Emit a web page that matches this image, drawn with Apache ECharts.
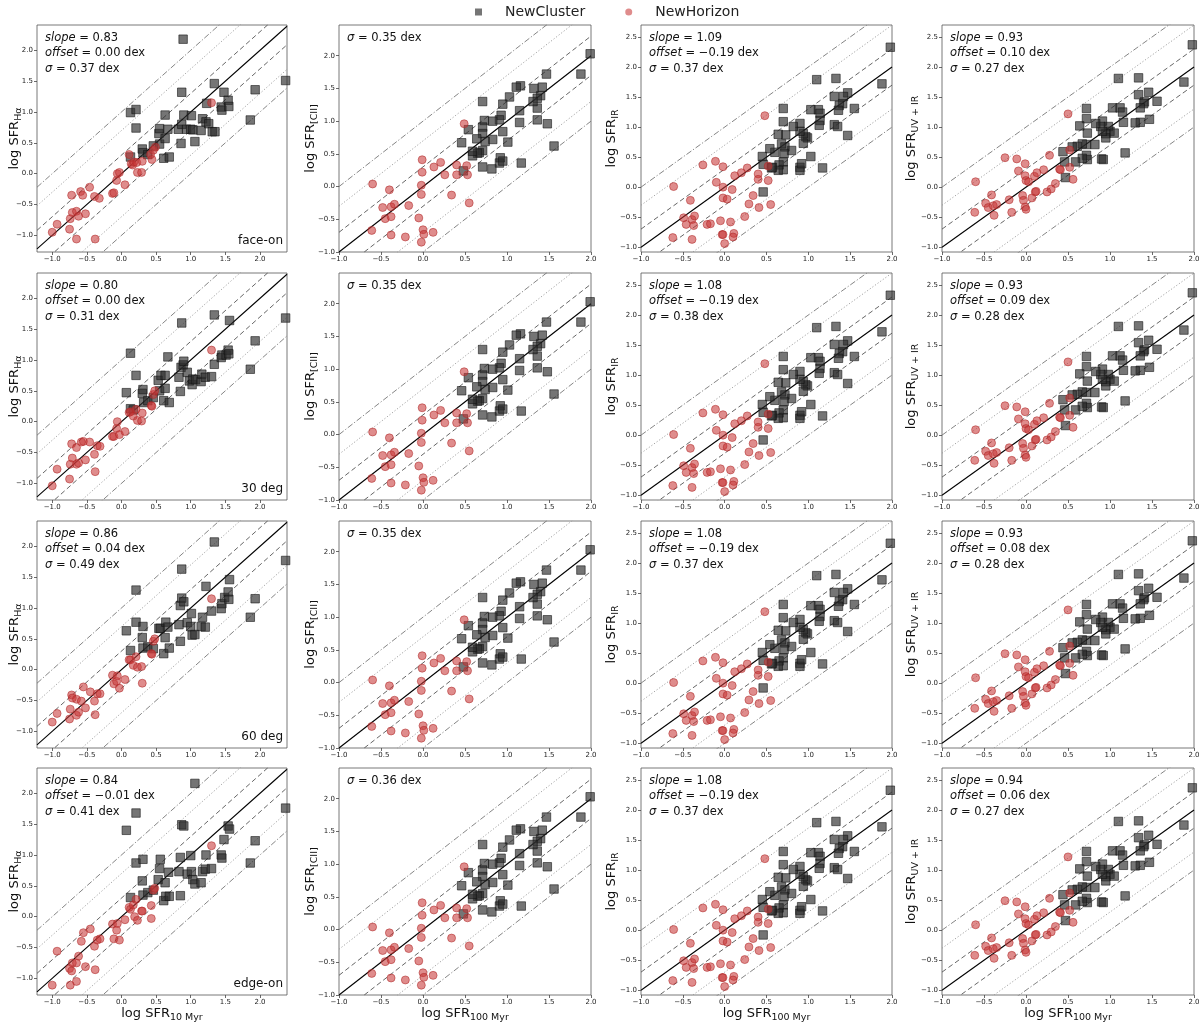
<!DOCTYPE html>
<html><head><meta charset="utf-8">
<script src="https://cdn.jsdelivr.net/npm/echarts@6/dist/echarts.min.js"></script>
<style>html,body{margin:0;padding:0;background:#fff}#c{width:1200px;height:1023px}</style>
</head><body><div id="c"></div>
<script>
// ---------------- DATA ----------------
// Column 1: log SFR_Halpha vs log SFR_10Myr, four viewing angles
const haFaceOnCluster = [[0.89,2.18],[0.13,0.99],[0.21,1.04],[0.21,0.74],[0.30,0.40],[0.31,0.34],[0.38,0.31],[0.46,0.45],[0.54,0.65],[0.55,0.48],[0.55,0.73],[0.63,0.95],[0.63,0.57],[0.67,0.72],[0.61,0.25],[0.69,0.27],[0.82,0.72],[0.86,0.49],[0.87,1.32],[0.87,0.80],[0.90,0.95],[0.94,0.72],[1.00,0.72],[1.01,0.94],[1.03,0.71],[1.06,0.52],[1.15,0.70],[1.17,0.89],[1.22,0.84],[1.26,0.81],[1.23,1.14],[1.31,0.68],[1.35,0.68],[1.34,1.46],[1.48,1.32],[1.44,1.08],[1.45,1.03],[1.54,1.19],[1.55,1.09],[1.86,0.87],[1.93,1.36],[2.37,1.51],[0.13,0.27]];
const haFaceOnHorizon = [[-1.00,-0.95],[-0.93,-0.82],[-0.75,-0.90],[-0.74,-0.73],[-0.72,-0.35],[-0.71,-0.63],[-0.65,-1.06],[-0.65,-0.61],[-0.62,-0.69],[-0.59,-0.29],[-0.56,-0.35],[-0.52,-0.65],[-0.46,-0.22],[-0.39,-0.37],[-0.38,-1.06],[-0.32,-0.40],[-0.13,-0.32],[-0.11,-0.31],[-0.07,-0.11],[-0.06,0.00],[-0.03,0.02],[0.05,-0.18],[0.11,0.31],[0.14,0.16],[0.16,0.14],[0.18,0.19],[0.22,0.18],[0.23,0.02],[0.29,0.02],[0.30,0.20],[0.42,0.31],[0.44,0.23],[0.46,0.38],[0.49,0.43],[1.30,1.15]];
const ha30Cluster = [[0.13,1.11],[0.07,0.47],[0.21,0.75],[0.13,0.21],[0.17,0.19],[0.30,0.46],[0.31,0.52],[0.32,0.31],[0.38,0.34],[0.46,0.39],[0.53,0.67],[0.55,0.50],[0.57,0.75],[0.63,0.75],[0.63,0.54],[0.61,0.34],[0.69,0.31],[0.67,1.05],[0.83,0.72],[0.85,0.49],[0.86,0.88],[0.87,1.60],[0.89,0.92],[0.90,0.98],[0.95,0.80],[0.98,0.66],[1.02,0.60],[1.03,0.69],[1.07,0.68],[1.15,0.65],[1.16,0.77],[1.21,0.72],[1.30,0.73],[1.34,0.93],[1.34,1.73],[1.44,1.04],[1.45,1.08],[1.51,1.08],[1.54,1.16],[1.55,1.10],[1.56,1.64],[1.86,0.85],[1.93,1.31],[2.37,1.68]];
const ha30Horizon = [[-1.00,-1.04],[-0.93,-0.77],[-0.75,-0.93],[-0.74,-0.69],[-0.72,-0.36],[-0.71,-0.59],[-0.65,-0.42],[-0.65,-0.69],[-0.62,-0.67],[-0.58,-0.33],[-0.55,-0.32],[-0.52,-0.62],[-0.46,-0.33],[-0.39,-0.53],[-0.38,-0.81],[-0.35,-0.39],[-0.31,-0.40],[-0.13,-0.24],[-0.11,-0.24],[-0.07,-0.11],[-0.06,0.00],[-0.03,-0.21],[0.05,-0.16],[0.11,0.15],[0.13,0.16],[0.17,0.09],[0.21,0.20],[0.23,0.02],[0.29,0.01],[0.30,0.14],[0.43,0.26],[0.44,0.25],[0.46,0.44],[0.48,0.50],[1.30,1.16]];
const ha60Cluster = [[0.21,1.29],[0.07,0.63],[0.21,0.77],[0.13,0.31],[0.31,0.70],[0.30,0.52],[0.31,0.35],[0.38,0.37],[0.46,0.34],[0.54,0.67],[0.56,0.67],[0.64,0.77],[0.63,0.52],[0.61,0.26],[0.67,0.69],[0.69,0.35],[0.83,0.73],[0.85,0.46],[0.85,1.04],[0.87,1.63],[0.87,1.16],[0.90,1.10],[0.95,0.76],[1.01,0.91],[1.00,0.70],[1.02,0.56],[1.06,0.57],[1.15,0.70],[1.17,0.85],[1.21,0.69],[1.22,1.35],[1.30,0.95],[1.34,2.07],[1.44,0.99],[1.45,1.07],[1.49,1.17],[1.54,1.26],[1.55,1.14],[1.56,1.46],[1.86,0.85],[1.93,1.15],[2.37,1.77]];
const ha60Horizon = [[-1.00,-0.85],[-0.93,-0.71],[-0.75,-0.80],[-0.74,-0.64],[-0.72,-0.41],[-0.71,-0.46],[-0.65,-0.74],[-0.65,-0.48],[-0.62,-0.69],[-0.58,-0.51],[-0.55,-0.28],[-0.52,-0.62],[-0.45,-0.36],[-0.39,-0.51],[-0.38,-0.73],[-0.35,-0.39],[-0.31,-0.39],[-0.13,-0.09],[-0.11,-0.23],[-0.07,-0.19],[-0.06,-0.10],[-0.03,-0.30],[0.05,-0.16],[0.11,0.16],[0.13,0.16],[0.17,0.07],[0.21,0.21],[0.23,0.04],[0.29,0.05],[0.30,-0.22],[0.43,0.26],[0.44,0.25],[0.46,0.46],[0.48,0.50],[1.30,1.15]];
const haEdgeCluster = [[0.07,1.40],[0.21,1.68],[0.21,0.87],[0.13,0.31],[0.31,0.93],[0.30,0.58],[0.31,0.35],[0.38,0.39],[0.46,0.43],[0.53,0.60],[0.55,0.78],[0.56,0.93],[0.63,0.55],[0.61,0.26],[0.64,0.33],[0.69,0.33],[0.68,0.72],[0.83,0.73],[0.85,0.96],[0.85,0.34],[0.87,1.49],[0.90,1.47],[0.95,0.69],[1.00,0.99],[1.01,0.73],[1.03,0.60],[1.06,0.53],[1.06,2.16],[1.15,0.55],[1.17,0.73],[1.21,0.77],[1.22,1.00],[1.30,0.78],[1.44,1.00],[1.45,0.95],[1.48,1.25],[1.54,1.47],[1.56,1.42],[1.86,0.87],[1.93,1.23],[2.37,1.76]];
const haEdgeHorizon = [[-1.00,-1.11],[-0.93,-0.56],[-0.75,-0.84],[-0.74,-1.11],[-0.72,-0.88],[-0.71,-0.75],[-0.65,-0.75],[-0.65,-1.05],[-0.62,-0.64],[-0.58,-0.40],[-0.55,-0.26],[-0.52,-0.81],[-0.45,-0.20],[-0.39,-0.48],[-0.38,-0.86],[-0.35,-0.38],[-0.31,-0.36],[-0.13,-0.12],[-0.11,-0.36],[-0.07,-0.22],[-0.06,-0.11],[-0.03,-0.38],[0.05,-0.05],[0.11,0.15],[0.13,0.12],[0.17,0.19],[0.21,0.28],[0.19,0.00],[0.23,-0.06],[0.29,0.09],[0.30,0.09],[0.43,0.18],[0.43,-0.03],[0.46,0.43],[0.48,0.46],[1.30,1.15]];
// Column 2: log SFR_[CII] vs log SFR_100Myr
const ciiCluster = [[1.99,2.03],[1.88,1.72],[1.56,0.62],[1.47,1.72],[1.48,0.96],[1.42,1.52],[1.40,1.39],[1.36,1.35],[1.36,1.20],[1.36,1.02],[1.32,1.50],[1.31,1.30],[1.16,1.54],[1.11,1.52],[1.15,1.16],[1.15,0.98],[1.17,0.36],[1.03,1.37],[1.01,0.68],[0.95,1.26],[0.95,0.84],[0.93,1.09],[0.91,1.02],[0.92,0.44],[0.91,0.36],[0.95,0.39],[0.83,1.00],[0.83,0.72],[0.82,0.27],[0.73,1.01],[0.71,0.91],[0.71,0.81],[0.71,1.30],[0.71,0.55],[0.74,0.69],[0.71,0.30],[0.67,0.52],[0.65,0.51],[0.64,0.73],[0.59,0.47],[0.59,0.54],[0.54,0.87],[0.46,0.67],[0.48,0.24]];
const ciiHorizon = [[0.49,0.96],[-0.60,0.04],[-0.61,-0.67],[-0.48,-0.32],[-0.45,-0.49],[-0.40,-0.05],[-0.38,-0.31],[-0.38,-0.46],[-0.38,-0.74],[-0.34,-0.27],[-0.17,-0.29],[-0.21,-0.77],[-0.05,-0.48],[-0.02,-0.12],[-0.02,0.02],[-0.01,0.41],[-0.01,0.22],[0.00,-0.66],[0.01,-0.73],[-0.02,-0.85],[0.12,-0.70],[0.13,0.30],[0.21,0.37],[0.26,0.18],[0.34,-0.13],[0.40,0.33],[0.40,0.18],[0.52,0.32],[0.53,0.18],[0.55,-0.25]];
// Column 3: log SFR_IR vs log SFR_100Myr
const irCluster = [[1.98,2.33],[1.88,1.72],[1.55,1.31],[1.47,1.57],[1.47,0.86],[1.42,1.51],[1.41,1.39],[1.37,1.36],[1.36,1.28],[1.33,1.81],[1.31,1.51],[1.31,1.04],[1.35,1.01],[1.10,1.79],[1.12,1.29],[1.14,1.23],[1.14,1.11],[1.13,1.03],[1.17,0.32],[1.03,1.29],[1.03,0.51],[0.99,0.82],[0.97,0.84],[0.94,0.89],[0.94,0.73],[0.90,0.93],[0.90,1.06],[0.90,0.33],[0.90,0.28],[0.92,0.39],[0.82,1.01],[0.80,0.61],[0.73,0.87],[0.72,0.67],[0.71,0.56],[0.70,1.09],[0.70,1.31],[0.70,0.42],[0.70,0.29],[0.68,0.72],[0.65,0.37],[0.64,0.88],[0.64,0.28],[0.60,0.58],[0.57,0.33],[0.54,0.64],[0.45,0.51],[0.46,0.38],[0.46,-0.08],[0.56,0.32]];
const irHorizon = [[0.48,1.19],[-0.61,0.01],[-0.62,-0.84],[-0.49,-0.51],[-0.46,-0.62],[-0.41,-0.22],[-0.39,-0.54],[-0.39,-0.87],[-0.36,-0.48],[-0.37,-0.64],[-0.26,0.37],[-0.21,-0.62],[-0.17,-0.61],[-0.11,0.43],[-0.10,0.08],[-0.05,-0.56],[-0.03,-0.79],[-0.02,-0.79],[0.00,-0.94],[-0.02,0.34],[-0.02,0.00],[-0.02,-0.18],[0.03,-0.20],[0.07,-0.58],[0.09,-0.04],[0.11,-0.77],[0.10,-0.83],[0.12,0.19],[0.20,0.24],[0.24,-0.49],[0.27,0.32],[0.29,-0.28],[0.34,-0.14],[0.40,0.22],[0.40,0.13],[0.41,-0.34],[0.52,0.35],[0.52,0.11],[0.55,-0.29]];
// Column 4: log SFR_UV+IR vs log SFR_100Myr
const uvirCluster = [[1.98,2.37],[1.88,1.75],[1.56,1.43],[1.46,1.58],[1.47,1.13],[1.41,1.42],[1.40,1.39],[1.34,1.82],[1.34,1.54],[1.36,1.32],[1.36,1.08],[1.30,1.07],[1.10,1.81],[1.03,1.32],[1.12,1.32],[1.15,1.25],[1.16,1.08],[1.18,0.57],[1.00,0.93],[0.98,1.01],[0.95,0.89],[0.95,0.82],[0.91,1.10],[0.89,1.01],[0.91,0.93],[0.90,0.47],[0.92,0.46],[1.05,0.90],[0.82,0.71],[0.83,1.06],[0.73,0.90],[0.72,1.31],[0.72,1.14],[0.72,0.71],[0.72,0.53],[0.73,0.46],[0.67,0.72],[0.67,0.48],[0.64,1.02],[0.61,0.68],[0.59,0.42],[0.55,0.67],[0.46,0.42],[0.44,0.59],[0.47,0.16]];
const uvirHorizon = [[0.50,1.22],[-0.60,0.09],[-0.61,-0.42],[-0.48,-0.27],[-0.45,-0.34],[-0.41,-0.13],[-0.39,-0.31],[-0.38,-0.47],[-0.35,-0.29],[-0.25,0.49],[-0.20,-0.21],[-0.17,-0.42],[-0.11,0.47],[-0.09,0.27],[-0.04,-0.14],[-0.03,-0.22],[-0.01,0.39],[-0.01,0.19],[0.00,0.11],[-0.01,-0.33],[0.00,-0.37],[0.03,0.09],[0.07,-0.18],[0.10,0.18],[0.11,-0.08],[0.12,-0.07],[0.13,0.24],[0.21,0.29],[0.25,-0.08],[0.28,0.53],[0.30,-0.03],[0.35,0.06],[0.40,0.30],[0.41,0.29],[0.52,0.62],[0.52,0.33],[0.56,0.13]];

// fit statistics text (per row)
const haStats   = [['0.83','0.00','0.37'],['0.80','0.00','0.31'],['0.86','0.04','0.49'],['0.84','\u22120.01','0.41']];
const ciiSigma  = ['0.35','0.35','0.35','0.36'];
const irStats   = [['1.09','\u22120.19','0.37'],['1.08','\u22120.19','0.38'],['1.08','\u22120.19','0.37'],['1.08','\u22120.19','0.37']];
const uvirStats = [['0.93','0.10','0.27'],['0.93','0.09','0.28'],['0.93','0.08','0.28'],['0.94','0.06','0.27']];
const viewLabels = ['face-on','30 deg','60 deg','edge-on'];
const seriesNames = ['NewCluster','NewHorizon'];
// reference lines: 1:1, factor 2, 5, 10 (dex offsets)
const refOffsets = [0, 0.301, -0.301, 0.699, -0.699, 1, -1];
// tick values
const xTicks = [-1, -0.5, 0, 0.5, 1, 1.5, 2];
const yTicksLow = [-1, -0.5, 0, 0.5, 1, 1.5, 2];
const yTicksHigh = [-1, -0.5, 0, 0.5, 1, 1.5, 2, 2.5];
const ySubs = ['H\u03b1', '[CII]', 'IR', 'UV + IR'];
const xSubs = ['10 Myr', '100 Myr', '100 Myr', '100 Myr'];

// ---------------- LAYOUT / STYLE ----------------
const FONT = '"DejaVu Sans", sans-serif';
const colLeft = [37, 339, 641, 942];
const colWidth = [250, 252, 251, 252];
const rowTop = [25, 273, 521, 768];
const rowHeight = 227;
const xRange = [[-1.22, 2.39], [-1, 2], [-1, 2], [-1, 2]];
const yRange = [[-1.27, 2.41], [-1, 2.47], [-1.08, 2.70], [-1.08, 2.70]];
const yTicksCol = [yTicksLow, yTicksLow, yTicksHigh, yTicksHigh];
const yNameGap = [13, 19, 20, 21];

const clusterData = [
  [haFaceOnCluster, ha30Cluster, ha60Cluster, haEdgeCluster],
  [ciiCluster, ciiCluster, ciiCluster, ciiCluster],
  [irCluster, irCluster, irCluster, irCluster],
  [uvirCluster, uvirCluster, uvirCluster, uvirCluster]
];
const horizonData = [
  [haFaceOnHorizon, ha30Horizon, ha60Horizon, haEdgeHorizon],
  [ciiHorizon, ciiHorizon, ciiHorizon, ciiHorizon],
  [irHorizon, irHorizon, irHorizon, irHorizon],
  [uvirHorizon, uvirHorizon, uvirHorizon, uvirHorizon]
];

const refStyles = {
  '0': {color: '#000', width: 1.1, type: 'solid'},
  '0.301': {color: '#555', width: 0.9, type: [5, 3]},
  '0.699': {color: '#999', width: 0.9, type: [1.2, 2]},
  '1': {color: '#777', width: 0.9, type: [6, 2, 1.2, 2]}
};

function fmt(v) { return v.toFixed(1).replace('-', '\u2212'); }

const grids = [], xAxes = [], yAxes = [], series = [], graphics = [];
const nameRich = {
  a: {fontSize: 13, fontFamily: FONT, color: '#111', lineHeight: 16, verticalAlign: 'top'},
  b: {fontSize: 9.5, fontFamily: FONT, color: '#111', lineHeight: 10, padding: [6, 0, 0, 0], verticalAlign: 'top'}
};
let gi = 0;
for (let r = 0; r < 4; r++) {
  for (let c = 0; c < 4; c++) {
    const left = colLeft[c], top = rowTop[r], w = colWidth[c], h = rowHeight;
    grids.push({left, top, width: w, height: h, show: true, borderColor: '#555', borderWidth: 0.8,
      backgroundColor: 'transparent', containLabel: false, outerBoundsMode: 'none'});
    xAxes.push({
      type: 'value', gridIndex: gi, min: xRange[c][0], max: xRange[c][1], position: 'bottom',
      splitLine: {show: false}, axisLine: {show: false, onZero: false},
      axisTick: {show: true, inside: false, length: 3, lineStyle: {color: '#444', width: 0.8}, customValues: xTicks},
      axisLabel: {show: true, fontSize: 7, color: '#222', fontFamily: FONT, margin: 4, customValues: xTicks, formatter: fmt},
      name: r === 3 ? '{a|log SFR}{b|' + xSubs[c] + '}' : '',
      nameLocation: 'middle', nameGap: 11,
      nameTextStyle: {rich: nameRich}
    });
    yAxes.push({
      type: 'value', gridIndex: gi, min: yRange[c][0], max: yRange[c][1], position: 'left',
      splitLine: {show: false}, axisLine: {show: false, onZero: false},
      axisTick: {show: true, inside: false, length: 3, lineStyle: {color: '#444', width: 0.8}, customValues: yTicksCol[c]},
      axisLabel: {show: true, fontSize: 7, color: '#222', fontFamily: FONT, margin: 4, customValues: yTicksCol[c], formatter: fmt},
      name: '{a|log SFR}{b|' + ySubs[c] + '}',
      nameLocation: 'middle', nameRotate: 90, nameGap: yNameGap[c], nameMoveOverlap: false,
      nameTextStyle: {rich: nameRich}
    });
    // reference lines
    refOffsets.forEach(function (o) {
      const st = refStyles[String(Math.abs(o))];
      const x0 = xRange[c][0], x1 = xRange[c][1];
      series.push({
        type: 'line', xAxisIndex: gi, yAxisIndex: gi, name: 'ref', silent: true,
        symbol: 'none', clip: true, animation: false, z: 1,
        lineStyle: {color: st.color, width: st.width, type: st.type},
        data: [[x0, x0 + o], [x1, x1 + o]]
      });
    });
    series.push({
      type: 'scatter', name: seriesNames[0], xAxisIndex: gi, yAxisIndex: gi, symbol: 'rect', symbolSize: 8.5,
      itemStyle: {color: 'rgba(45,45,45,0.82)', borderColor: 'rgba(20,20,20,0.9)', borderWidth: 0.8},
      data: clusterData[c][r], z: 3, animation: false
    });
    series.push({
      type: 'scatter', name: seriesNames[1], xAxisIndex: gi, yAxisIndex: gi, symbol: 'circle', symbolSize: 8,
      itemStyle: {color: 'rgba(200,55,55,0.72)', borderColor: 'rgba(175,40,40,0.85)', borderWidth: 0.8},
      data: horizonData[c][r], z: 4, animation: false
    });
    // stats text
    let lines;
    if (c === 0) lines = [['slope', haStats[r][0], ''], ['offset', haStats[r][1], ' dex'], ['\u03c3', haStats[r][2], ' dex']];
    else if (c === 1) lines = [['\u03c3', ciiSigma[r], ' dex']];
    else if (c === 2) lines = [['slope', irStats[r][0], ''], ['offset', irStats[r][1], ' dex'], ['\u03c3', irStats[r][2], ' dex']];
    else lines = [['slope', uvirStats[r][0], ''], ['offset', uvirStats[r][1], ' dex'], ['\u03c3', uvirStats[r][2], ' dex']];
    lines.forEach(function (ln, k) {
      graphics.push({
        type: 'text', x: left + 8, y: top + 13 + k * 15.5, silent: true, z: 10,
        style: {
          text: '{i|' + ln[0] + '}{n| = ' + ln[1] + ln[2] + '}',
          verticalAlign: 'middle', align: 'left',
          rich: {
            i: {fontStyle: 'italic', fontSize: 11.5, fontFamily: FONT, fill: '#111'},
            n: {fontSize: 11.5, fontFamily: FONT, fill: '#111'}
          }
        }
      });
    });
    if (c === 0) {
      graphics.push({
        type: 'text', x: left + w - 4, y: top + h - 11, silent: true, z: 10,
        style: {text: viewLabels[r], align: 'right', verticalAlign: 'middle', fontSize: 12, fontFamily: FONT, fill: '#111'}
      });
    }
    gi++;
  }
}

const chart = echarts.init(document.getElementById('c'), null, {renderer: 'canvas'});
chart.setOption({
  animation: false,
  backgroundColor: '#fff',
  legend: {
    top: 0, left: 470, itemWidth: 7, itemHeight: 7, itemGap: 40,
    textStyle: {fontSize: 14, fontFamily: FONT, color: '#222', padding: [0, 0, 0, 18]},
    data: [{name: seriesNames[0], icon: 'rect', itemStyle: {borderWidth: 0}}, {name: seriesNames[1], icon: 'circle', itemStyle: {borderWidth: 0}}]
  },
  grid: grids, xAxis: xAxes, yAxis: yAxes, series: series, graphic: graphics
});
</script></body></html>
